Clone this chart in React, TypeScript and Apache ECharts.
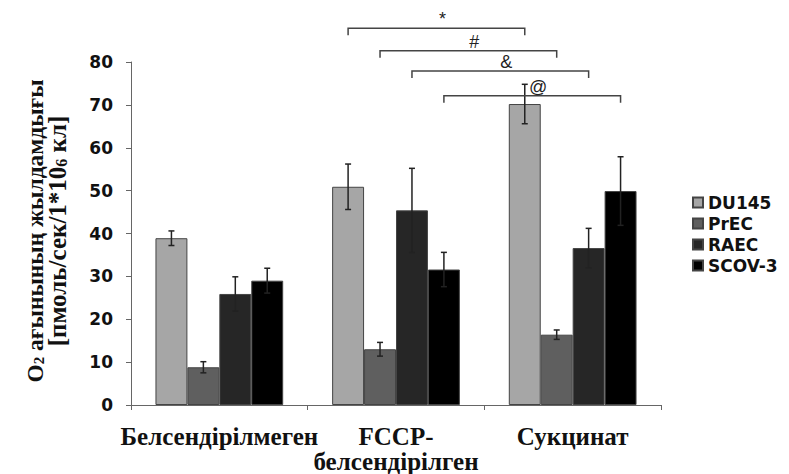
import React, { useEffect, useRef } from "react";
import * as echarts from "echarts";

const categories = ["Белсендірілмеген", "FCCP-\nбелсендірілген", "Сукцинат"];
const seriesNames = ["DU145", "PrEC", "RAEC", "SCOV-3"];
const du145 = [38.9, 50.9, 70.2];
const prec = [8.8, 13.0, 16.4];
const raec = [25.9, 45.4, 36.6];
const scov3 = [29.0, 31.6, 49.9];
const du145Err = [1.7, 5.3, 4.6];
const precErr = [1.3, 1.6, 1.1];
const raecErr = [4.0, 9.8, 4.6];
const scov3Err = [2.9, 4.0, 8.0];
const colors = ["#a6a6a6", "#5f5f5f", "#262626", "#000000"];
const yTicks = { min: 0, max: 80, interval: 10 };
const yTitle = "{a|O}{sa|2}{a| ағынының жылдамдығы}\n{b|[пмоль/сек/1*10}{sb|6}{b| кл]}";

// significance brackets: [fromCategory, toCategory, seriesIndex, yValue]
const bracketLabels = ["*", "#", "&", "@"];
const bracketFrom = [1, 1, 1, 1];
const bracketTo = [2, 2, 2, 2];
const bracketSeries = [0, 1, 2, 3];
const bracketY = [87.9, 82.6, 77.9, 72.1];

const CAT_GAP = 0.277;

export default function App() {
  const ref = useRef<HTMLDivElement>(null);
  useEffect(() => {
    document.body.style.margin = "0";
    if (!ref.current) return;
    const chart = echarts.init(ref.current, null, { renderer: "svg" });
    const values = [du145, prec, raec, scov3];
    const errs = [du145Err, precErr, raecErr, scov3Err];
    const errData: number[][] = [];
    values.forEach((arr, k) =>
      arr.forEach((v, i) => errData.push([i, v, errs[k][i], k]))
    );
    const bracketData = bracketLabels.map((_, i) => [
      bracketFrom[i],
      bracketY[i],
      bracketTo[i],
      bracketSeries[i],
      i,
    ]);
    const barOffset = (api: any, k: number) => {
      const band = api.size([1, 0])[0];
      const bw = (band * (1 - CAT_GAP)) / 4;
      return (k - 1.5) * bw;
    };
    const serif = "Liberation Serif, Times New Roman, serif";
    const sans = "DejaVu Sans, Arial, sans-serif";
    const option: any = {
      animation: false,
      grid: { left: 131, right: 128, top: 62, bottom: 68 },
      graphic: [
        {
          type: "text",
          x: 46,
          y: 231,
          rotation: Math.PI / 2,
          style: {
            text: yTitle,
            align: "center",
            verticalAlign: "middle",
            fontFamily: serif,
            fontWeight: "bold",
            fontSize: 23,
            lineHeight: 23,
            fill: "#111",
            rich: {
              a: { fontFamily: serif, fontWeight: "bold", fontSize: 23.5, lineHeight: 23, fill: "#111" },
              b: { fontFamily: serif, fontWeight: "bold", fontSize: 25, lineHeight: 23, fill: "#111" },
              sa: { fontFamily: serif, fontWeight: "bold", fontSize: 15, lineHeight: 23, verticalAlign: "bottom", fill: "#111" },
              sb: { fontFamily: serif, fontWeight: "bold", fontSize: 16, lineHeight: 23, verticalAlign: "bottom", fill: "#111" },
            },
          },
        },
      ],
      legend: {
        orient: "vertical",
        left: 687,
        top: 189,
        itemWidth: 10,
        itemHeight: 10,
        itemGap: 4,
        icon: "rect",
        data: seriesNames,
        textStyle: {
          fontFamily: sans,
          fontWeight: "bold",
          fontSize: 17,
          lineHeight: 17,
          color: "#111",
        },
      },
      xAxis: {
        type: "category",
        data: categories,
        axisLine: { lineStyle: { color: "#666", width: 1 } },
        axisTick: { show: true, length: 5, lineStyle: { color: "#666" } },
        axisLabel: {
          interval: 0,
          margin: 19,
          fontFamily: serif,
          fontWeight: "bold",
          fontSize: 25,
          lineHeight: 25,
          color: "#111",
        },
      },
      yAxis: {
        type: "value",
        min: yTicks.min,
        max: yTicks.max,
        interval: yTicks.interval,
        splitLine: { show: false },
        axisLine: { show: true, lineStyle: { color: "#666", width: 1 } },
        axisTick: { show: true, length: 5, lineStyle: { color: "#666" } },
        axisLabel: {
          margin: 18,
          fontFamily: sans,
          fontWeight: "bold",
          fontSize: 17,
          color: "#111",
        },
      },
      series: [
        ...seriesNames.map((name, k) => ({
          name,
          type: "bar",
          data: values[k],
          barGap: "0%",
          barCategoryGap: CAT_GAP * 100 + "%",
          itemStyle: { color: colors[k], borderColor: "#444", borderWidth: 1 },
        })),
        {
          type: "custom",
          name: "errors",
          data: errData,
          z: 10,
          renderItem: (params: any, api: any) => {
            const cat = api.value(0);
            const v = api.value(1);
            const e = api.value(2);
            const k = api.value(3);
            const off = barOffset(api, k);
            const top = api.coord([cat, v + e]);
            const bot = api.coord([cat, v - e]);
            const x = top[0] + off;
            const cap = 3;
            const st = { stroke: "#222", lineWidth: 1.5 };
            return {
              type: "group",
              children: [
                { type: "line", shape: { x1: x, y1: top[1], x2: x, y2: bot[1] }, style: st },
                { type: "line", shape: { x1: x - cap, y1: top[1], x2: x + cap, y2: top[1] }, style: st },
                { type: "line", shape: { x1: x - cap, y1: bot[1], x2: x + cap, y2: bot[1] }, style: st },
              ],
            };
          },
        },
        {
          type: "custom",
          name: "brackets",
          data: bracketData,
          z: 10,
          clip: false,
          renderItem: (params: any, api: any) => {
            const from = api.value(0);
            const y = api.value(1);
            const to = api.value(2);
            const k = api.value(3);
            const li = api.value(4);
            const off = barOffset(api, k);
            const p1 = api.coord([from, y]);
            const p2 = api.coord([to, y]);
            const x1 = p1[0] + off;
            const x2 = p2[0] + off;
            const py = p1[1];
            return {
              type: "group",
              children: [
                {
                  type: "polyline",
                  shape: { points: [[x1, py + 7], [x1, py], [x2, py], [x2, py + 7]] },
                  style: { stroke: "#444", lineWidth: 1.5, fill: null },
                },
                {
                  type: "text",
                  style: {
                    text: bracketLabels[li],
                    x: (x1 + x2) / 2 + 6,
                    y: py - 9,
                    align: "center",
                    verticalAlign: "middle",
                    fontFamily: "Liberation Sans, Arial, sans-serif",
                    fontSize: 18,
                    fill: "#222",
                  },
                },
              ],
            };
          },
        },
      ],
    };
    chart.setOption(option);
    return () => chart.dispose();
  }, []);
  return <div ref={ref} style={{ width: 789, height: 474 }} />;
}
